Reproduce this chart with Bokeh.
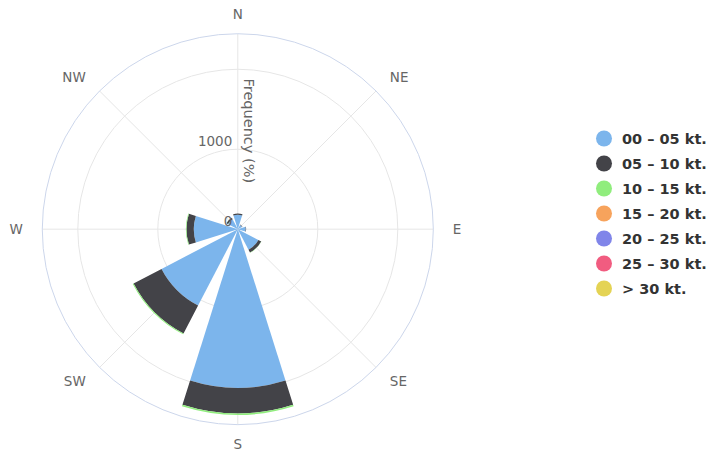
import math
from bokeh.plotting import figure
from bokeh.models import ColumnDataSource
from bokeh.embed import file_html
from bokeh.resources import INLINE
from bokeh.core.properties import value

# ---------------- data ----------------
directions = ["N", "NE", "E", "SE", "S", "SW", "W", "NW"]
bearings = [0, 45, 90, 135, 180, 225, 270, 315]
series_names = ["00 – 05 kt.", "05 – 10 kt.", "10 – 15 kt.", "15 – 20 kt.",
                "20 – 25 kt.", "25 – 30 kt.", "> 30 kt."]
colors = ["#7cb5ec", "#434348", "#90ed7d", "#f7a35c", "#8085e9", "#f15c80", "#e4d354"]
s_00_05 = [180, 60, 100, 290, 1983, 1075, 550, 140]
s_05_10 = [15, 5, 5, 40, 318, 394, 91, 20]
s_10_15 = [2, 0, 0, 3, 20, 12, 8, 2]
s_15_20 = [0, 0, 0, 0, 0, 0, 0, 0]
s_20_25 = [0, 0, 0, 0, 0, 0, 0, 0]
s_25_30 = [0, 0, 0, 0, 0, 0, 0, 0]
s_30_up = [0, 0, 0, 0, 0, 0, 0, 0]
series = [s_00_05, s_05_10, s_10_15, s_15_20, s_20_25, s_25_30, s_30_up]
y_ticks = [0, 1000, 2000]
y_tick_labels = ["0", "1000"]
y_max = 2444
y_title = "Frequency (%)"

# ---------------- layout ----------------
W, H = 712, 451
CX, CY = 237.3, 228.7          # pane centre in px within the figure
PX = 1000 / 80.0               # data units per pixel
HALF = 17.5                    # half width of a column, degrees
FONT = "DejaVu Sans"

p = figure(width=W, height=H, output_backend="svg", toolbar_location=None,
           x_range=(-CX * PX, (W - CX) * PX),
           y_range=(-(H - CY) * PX, CY * PX),
           min_border=0, min_border_left=0, min_border_right=0,
           min_border_top=0, min_border_bottom=0)
p.axis.visible = False
p.grid.visible = False
p.outline_line_color = None
p.background_fill_color = "white"
p.border_fill_color = "white"

# grid circles
p.circle(x=[0] * 2, y=[0] * 2, radius=y_ticks[1:], fill_color=None,
         line_color="#e6e6e6", line_width=1)
# radial grid lines
xs = [[0, y_max * math.sin(math.radians(b))] for b in bearings]
ys = [[0, y_max * math.cos(math.radians(b))] for b in bearings]
p.multi_line(xs=xs, ys=ys, line_color="#e6e6e6", line_width=1)
# outer pane circle
p.circle(x=[0], y=[0], radius=[y_max], fill_color=None,
         line_color="#ccd6eb", line_width=1)

# stacked columns
base = [0.0] * len(directions)
for name, col, vals in zip(series_names, colors, series):
    inner = list(base)
    outer = [b + v for b, v in zip(base, vals)]
    keep = [i for i, v in enumerate(vals) if v > 0]
    if keep:
        src = ColumnDataSource(dict(
            inner=[inner[i] for i in keep],
            outer=[outer[i] for i in keep],
            start=[math.radians(90 - bearings[i] - HALF) for i in keep],
            end=[math.radians(90 - bearings[i] + HALF) for i in keep],
        ))
        p.annular_wedge(x=0, y=0, inner_radius="inner", outer_radius="outer",
                        start_angle="start", end_angle="end", source=src,
                        fill_color=col, line_color=None)
    base = outer

# category labels
lab_r = 215 * PX
lx, ly, la = [], [], []
for b in bearings:
    s, c = math.sin(math.radians(b)), math.cos(math.radians(b))
    lx.append(lab_r * s)
    ly.append(lab_r * c)
    la.append("left" if s > 0.1 else ("right" if s < -0.1 else "center"))
p.text(x=lx, y=ly, text=directions, text_align=la, text_baseline="middle",
       text_font=value(FONT), text_font_size="13.5px", text_color="#666666")

# y tick labels
p.text(x=[-5.5 * PX] * len(y_tick_labels),
       y=[t + 8.7 * PX for t in y_ticks[:len(y_tick_labels)]],
       text=y_tick_labels, text_align="right", text_baseline="middle",
       text_font=value(FONT), text_font_size="13.5px", text_color="#666666")

# y axis title
p.text(x=[11 * PX], y=[98.4 * PX], text=[y_title], angle=-math.pi / 2,
       text_align="center", text_baseline="middle",
       text_font=value(FONT), text_font_size="14.5px", text_color="#666666")

# legend
leg_x = 366.2 * PX
leg_y0 = 90.7 * PX
leg_dy = 25 * PX
p.scatter(x=[leg_x] * len(series_names),
          y=[leg_y0 - i * leg_dy for i in range(len(series_names))],
          marker="circle", size=16, fill_color=colors, line_color=None)
p.text(x=[leg_x + 18 * PX] * len(series_names),
       y=[leg_y0 - i * leg_dy for i in range(len(series_names))],
       text=series_names, text_align="left", text_baseline="middle",
       text_font=value(FONT), text_font_size="14.5px", text_font_style="bold",
       text_color="#333333")

open("out.html", "w").write(file_html(p, INLINE))
